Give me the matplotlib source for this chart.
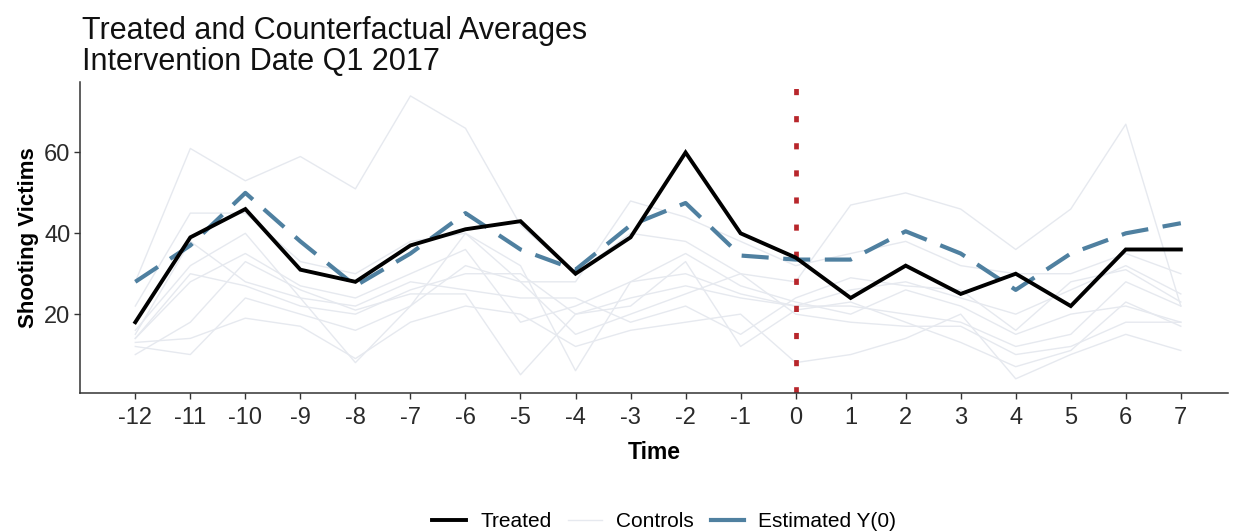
import matplotlib
matplotlib.use("Agg")
import matplotlib.pyplot as plt
from matplotlib.lines import Line2D

plt.rcParams['font.family'] = ['Liberation Sans', 'DejaVu Sans']

time = list(range(-12, 8))

treated = [18, 39, 46, 31, 28, 37, 41, 43, 30, 39, 60, 40, 34, 24, 32, 25, 30, 22, 36, 36]
estimated_y0 = [28, 37, 50, 38, 27, 35, 45, 36, 31, 42, 47.5, 34.5, 33.5, 33.5, 40.5, 35, 26, 35, 40, 42.5]

controls = [
    [28, 61, 53, 59, 51, 74, 66, 42, 30, 40, 38, 30, 28, 47, 50, 46, 36, 46, 67, 22],
    [22, 45, 45, 33, 30, 38, 40, 28, 28, 48, 44, 38, 32, 35, 38, 32, 30, 30, 35, 30],
    [14, 28, 35, 27, 24, 30, 36, 18, 22, 28, 30, 25, 22, 26, 28, 24, 20, 26, 32, 25],
    [14, 30, 27, 22, 20, 26, 30, 30, 20, 24, 27, 24, 22, 22, 20, 18, 12, 15, 28, 22],
    [12, 10, 24, 20, 16, 22, 32, 28, 15, 20, 25, 30, 20, 18, 17, 17, 10, 12, 18, 18],
    [13, 14, 19, 17, 9, 18, 22, 20, 12, 16, 18, 20, 8, 10, 14, 20, 4, 10, 15, 11],
    [10, 18, 33, 26, 21, 25, 25, 5, 20, 22, 33, 12, 21, 23, 18, 13, 7, 11, 23, 17],
    [15, 38, 28, 24, 22, 28, 26, 24, 24, 18, 22, 15, 24, 29, 27, 26, 16, 28, 31, 23],
    [16, 32, 40, 24, 8, 22, 40, 32, 6, 28, 35, 27, 23, 20, 26, 22, 15, 20, 22, 18],
]

intervention = 0
title_lines = ["Treated and Counterfactual Averages", "Intervention Date Q1 2017"]
legend_labels = ["Treated", "Controls", "Estimated Y(0)"]

fig = plt.figure(figsize=(12.35, 5.31), dpi=100)
ax = fig.add_axes([0.065, 0.26, 0.929, 0.586])

ctrl_color = "#e6e9ef"
for c in controls:
    ax.plot(time, c, color=ctrl_color, lw=1.0, zorder=1)

ylo, yhi = 0.5, 77.5
ax.plot([intervention, intervention], [yhi, ylo], color="#b8262b", lw=3.4,
        linestyle=(4.36, (1.3, 4.44)), zorder=2)
ax.plot(time, estimated_y0, color="#4f80a0", lw=3.0, linestyle=(0, (6.5, 3.5)), zorder=3)
ax.plot(time, treated, color="black", lw=2.8, zorder=4, solid_joinstyle="miter")

ax.set_xlim(-13.0, 7.85)
ax.set_ylim(ylo, yhi)
ax.set_xticks(time)
ax.set_xticklabels([str(t) for t in time])
ax.set_yticks([20, 40, 60])

for s in ["top", "right"]:
    ax.spines[s].set_visible(False)
for s in ["left", "bottom"]:
    ax.spines[s].set_color("#333333")
    ax.spines[s].set_linewidth(1.1)
ax.tick_params(axis="both", length=4, width=1.0, color="#333333", labelsize=17, labelcolor="#2a2a2a", pad=3)
ax.tick_params(axis="x", pad=6)

ax.set_xlabel("Time", fontsize=16.5, fontweight="bold", labelpad=9)
ax.set_ylabel("Shooting Victims", fontsize=16, fontweight="bold", labelpad=4)

fig.text(0.066, 0.97, "\n".join(title_lines), fontsize=22, va="top", ha="left",
         linespacing=1.05, color="#111111")

handles = [
    Line2D([0], [0], color="black", lw=2.8),
    Line2D([0], [0], color=ctrl_color, lw=1.0),
    Line2D([0], [0], color="#4f80a0", lw=3.0),
]
fig.legend(handles, legend_labels, loc="lower center", bbox_to_anchor=(0.538, -0.035), ncol=3,
           frameon=False, fontsize=15, handlelength=1.6, handletextpad=0.7, columnspacing=0.8)

fig.savefig("out.png", dpi=100)
